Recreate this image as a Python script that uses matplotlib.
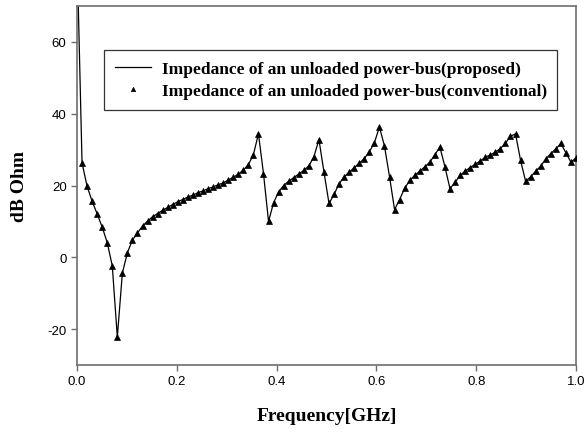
import numpy as np
import matplotlib
matplotlib.use("Agg")
import matplotlib.pyplot as plt

# Frequency grid (100 samples from 0 to 1 GHz)
freq = np.linspace(0.0, 1.0, 100)

impedance_db = [
    85.0, 26.3, 19.8, 15.6, 12.1, 8.4, 4.1, -2.4, -22.2, -4.4,
    1.3, 4.8, 6.8, 8.7, 10.1, 11.3, 12.2, 13.1, 13.9, 14.7,
    15.5, 16.1, 16.8, 17.3, 18.0, 18.5, 19.1, 19.6, 20.2, 20.7,
    21.5, 22.3, 23.1, 24.3, 25.8, 28.6, 34.4, 23.3, 10.0, 15.2,
    18.2, 20.0, 21.2, 22.2, 23.2, 24.2, 25.5, 28.0, 32.8, 23.7,
    15.0, 17.5, 20.5, 22.4, 23.7, 25.0, 26.2, 27.5, 29.4, 31.9,
    36.3, 31.0, 22.5, 13.3, 16.1, 19.2, 21.4, 22.8, 24.0, 25.2,
    26.5, 28.6, 30.7, 25.2, 19.1, 20.9, 22.8, 24.0, 25.0, 25.9,
    26.8, 27.9, 28.5, 29.3, 30.3, 31.8, 33.7, 34.4, 27.0, 21.2,
    22.4, 24.0, 25.4, 27.4, 28.9, 30.2, 31.7, 29.1, 26.5, 27.7,
]

x_ticks = [0.0, 0.2, 0.4, 0.6, 0.8, 1.0]
x_tick_labels = ["0.0", "0.2", "0.4", "0.6", "0.8", "1.0"]
y_ticks = [-20, 0, 20, 40, 60]
y_tick_labels = ["-20", "0", "20", "40", "60"]

label_proposed = "Impedance of an unloaded power-bus(proposed)"
label_conventional = "Impedance of an unloaded power-bus(conventional)"

W, H = 587, 435
fig = plt.figure(figsize=(W / 100, H / 100), dpi=100)
ax = fig.add_axes([77 / W, 1 - 366 / H, 499 / W, 359 / H])

ax.plot(freq, impedance_db, color="black", linewidth=0.9, label=label_proposed,
        zorder=2)
ax.plot(freq[1:], impedance_db[1:], linestyle="none", marker="^", markersize=4.2,
        color="black", markeredgewidth=0.5, label=label_conventional, zorder=3)

ax.set_xlim(0.0, 1.0)
ax.set_ylim(-30, 70)
ax.set_xticks(x_ticks)
ax.set_xticklabels(x_tick_labels)
ax.set_yticks(y_ticks)
ax.set_yticklabels(y_tick_labels)

spine_color = "#6e6e6e"
for s in ax.spines.values():
    s.set_color(spine_color)
    s.set_linewidth(1.2)

ax.tick_params(axis="both", direction="out", length=4.5, width=1.0,
               color=spine_color, labelsize=9.5, pad=3)
for lab in ax.get_xticklabels() + ax.get_yticklabels():
    lab.set_fontfamily("Liberation Sans")

serif = "Liberation Serif"
ax.set_xlabel("Frequency[GHz]", fontfamily=serif, fontweight="bold",
              fontsize=14, labelpad=14)
ax.set_ylabel("dB Ohm", fontfamily=serif, fontweight="bold",
              fontsize=14, labelpad=14)

leg = ax.legend(loc="upper left", bbox_to_anchor=(0.054, 0.877),
                borderaxespad=0, frameon=True, fancybox=False, shadow=False,
                numpoints=1, markerscale=0.75, handlelength=2.1,
                handletextpad=0.6, borderpad=0.62, labelspacing=0.32,
                prop={"family": serif, "weight": "bold", "size": 12.5})
leg.get_frame().set_edgecolor("#333333")
leg.get_frame().set_linewidth(0.9)
leg.get_frame().set_alpha(1)

fig.savefig("out.png", dpi=100)
